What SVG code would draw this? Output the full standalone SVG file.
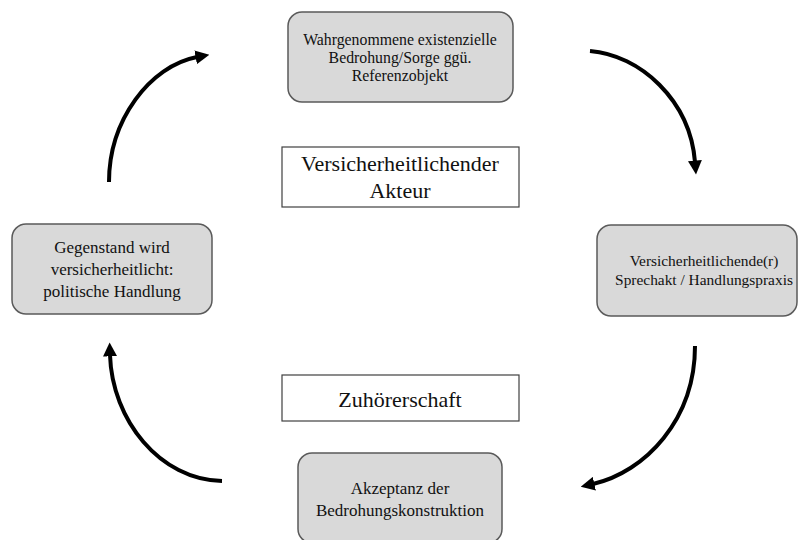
<svg xmlns="http://www.w3.org/2000/svg" width="798" height="540" viewBox="0 0 798 540" font-family="'Liberation Serif', 'Times New Roman', 'DejaVu Serif', serif">
<defs>
<style>
.node rect.g{fill:#d9d9d9;stroke:#5a5a5a;stroke-width:1.5}
.node rect.w{fill:#ffffff;stroke:#404040;stroke-width:1.2}
text{font-family:'Liberation Serif','Times New Roman','DejaVu Serif',serif;fill:#111111;text-anchor:middle}
.s16{font-size:15.8px}
.s15{font-size:15.4px}
.s17{font-size:17px}
.s22{font-size:22px}
.arr{fill:none;stroke:#000;stroke-width:4;marker-end:url(#ah)}
</style>
<marker id="ah" viewBox="0 0 10 10" refX="1" refY="5" markerWidth="14" markerHeight="14" markerUnits="userSpaceOnUse" orient="auto">
<path d="M0,0 L10,5 L0,10 z" fill="#000"/>
</marker>
</defs>
<rect width="798" height="540" fill="#ffffff"/>
<g id="n-top" class="node">
<rect class="g" x="288" y="12" width="225" height="90" rx="14"/>
<text class="s16" x="400" y="45">Wahrgenommene existenzielle</text>
<text class="s16" x="400" y="63">Bedrohung/Sorge ggü.</text>
<text class="s16" x="400" y="81">Referenzobjekt</text>
</g>
<g id="n-right" class="node">
<rect class="g" x="597" y="225" width="200" height="91" rx="14"/>
<text class="s15" x="704" y="266">Versicherheitlichende(r)</text>
<text class="s15" x="704" y="285">Sprechakt / Handlungspraxis</text>
</g>
<g id="n-bottom" class="node">
<rect class="g" x="298" y="453" width="204" height="90" rx="14"/>
<text class="s17" x="400" y="494">Akzeptanz der</text>
<text class="s17" x="400" y="516">Bedrohungskonstruktion</text>
</g>
<g id="n-left" class="node">
<rect class="g" x="12" y="224" width="200" height="90" rx="14"/>
<text class="s17" x="112" y="253">Gegenstand wird</text>
<text class="s17" x="112" y="275">versicherheitlicht:</text>
<text class="s17" x="112" y="297">politische Handlung</text>
</g>
<g id="n-akteur" class="node">
<rect class="w" x="282" y="147" width="237" height="60"/>
<text class="s22" x="400" y="171">Versicherheitlichender</text>
<text class="s22" x="400" y="198">Akteur</text>
</g>
<g id="n-zuhoerer" class="node">
<rect class="w" x="282" y="375" width="237" height="46"/>
<text class="s22" x="400" y="407">Zuhörerschaft</text>
</g>
<g id="connectors">
<path class="arr" d="M109,182 C109,120 150,66 197,57"/>
<path class="arr" d="M590,51 C640,55 690,100 695,162"/>
<path class="arr" d="M695,346 C695,420 645,472 593,484"/>
<path class="arr" d="M222,481 C160,480 112,420 110,355"/>
</g>
</svg>
